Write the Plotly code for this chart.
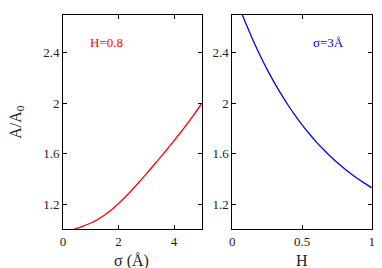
import plotly.graph_objects as go

# Left panel: A/A0 vs sigma at H=0.8
sigma = [0.4, 0.7, 1.0, 1.25, 1.5, 1.75, 2.0, 2.25, 2.5, 2.75, 3.0,
         3.25, 3.5, 3.75, 4.0, 4.25, 4.5, 4.75, 5.0]
ratio_sigma = [1.0, 1.024, 1.05, 1.078, 1.113, 1.155, 1.204, 1.258, 1.316,
               1.377, 1.44, 1.504, 1.569, 1.635, 1.703, 1.773, 1.845, 1.92, 2.0]

# Right panel: A/A0 vs H at sigma=3 Å
H = [0.07, 0.1, 0.15, 0.2, 0.25, 0.3, 0.35, 0.4, 0.45, 0.5, 0.55, 0.6,
     0.65, 0.7, 0.75, 0.8, 0.85, 0.9, 0.95, 1.0]
ratio_H = [2.706, 2.624, 2.496, 2.377, 2.267, 2.166, 2.072, 1.984, 1.904, 1.829,
           1.760, 1.696, 1.637, 1.582, 1.532, 1.484, 1.441, 1.401, 1.364, 1.329]

y_ticks = [1.2, 1.6, 2.0, 2.4]
y_ticktext = ["1.2", "1.6", "2", "2.4"]
x1_ticks = [0, 2, 4]
x1_ticktext = ["0", "2", "4"]
x2_ticks = [0, 0.5, 1]
x2_ticktext = ["0", "0.5", "1"]

FONT = "Liberation Serif, Times New Roman, serif"
TXT = "#222222"

fig = go.Figure()
fig.add_trace(go.Scatter(x=sigma, y=ratio_sigma, mode="lines",
                         line=dict(color="#ff0000", width=1.3, shape="spline",
                                   smoothing=0.8),
                         xaxis="x", yaxis="y", showlegend=False, hoverinfo="skip"))
fig.add_trace(go.Scatter(x=H, y=ratio_H, mode="lines",
                         line=dict(color="#0000ff", width=1.3, shape="spline",
                                   smoothing=0.8),
                         xaxis="x2", yaxis="y2", showlegend=False, hoverinfo="skip"))

ax_common = dict(showgrid=False, zeroline=False, showline=True, linecolor="black",
                 linewidth=1, mirror="ticks", ticks="inside", ticklen=4,
                 tickcolor="black", tickwidth=1,
                 tickfont=dict(family=FONT, size=13, color=TXT))

def label(text, x, y, size, color, **kw):
    return dict(text=text, x=x/382, y=1-y/268, xref="paper", yref="paper",
                xanchor="center", yanchor="middle", showarrow=False,
                font=dict(family=FONT, size=size, color=color), **kw)

fig.update_layout(
    width=382, height=268,
    margin=dict(l=0, r=0, t=0, b=0),
    paper_bgcolor="white", plot_bgcolor="white",
    xaxis=dict(domain=[61/382, 202/382], range=[0, 5], anchor="y",
               tickvals=x1_ticks, ticktext=x1_ticktext, **ax_common),
    yaxis=dict(domain=[1-229.3/268, 1-15/268], range=[1.0, 2.7], anchor="x",
               tickvals=y_ticks, ticktext=y_ticktext, **ax_common),
    xaxis2=dict(domain=[233/382, 374.7/382], range=[0, 1], anchor="y2",
                tickvals=x2_ticks, ticktext=x2_ticktext, **ax_common),
    yaxis2=dict(domain=[1-229.3/268, 1-15/268], range=[1.0, 2.7], anchor="x2",
                tickvals=y_ticks, ticktext=y_ticktext, **ax_common),
    annotations=[
        label("H=0.8", 105, 42, 13, "#ff0000"),
        label("σ=3Å", 331, 42, 13, "#0000ff"),
        label("σ (Å)", 131, 261, 16, TXT),
        label("H", 304, 260, 16, TXT),
        label("A/A<sub>0</sub>", 13, 122, 16, TXT, textangle=-90),
    ],
)

fig.write_html("out.html", config={"displayModeBar": False},
               post_script="document.body.style.margin='0';")
